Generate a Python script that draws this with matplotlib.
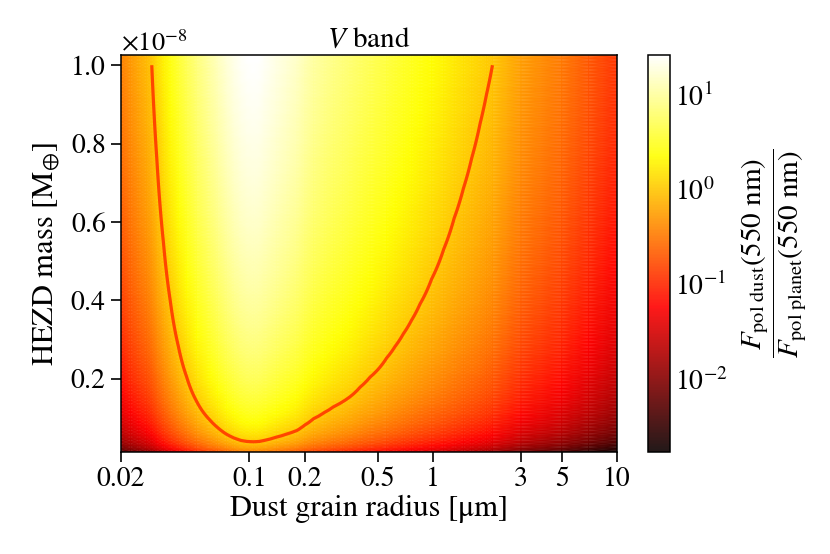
import numpy as np
import matplotlib
matplotlib.use("Agg")
import matplotlib.pyplot as plt
from matplotlib.colors import LogNorm
from matplotlib.ticker import FixedLocator, FixedFormatter, NullLocator, ScalarFormatter

plt.rcParams['font.family'] = ['STIXGeneral', 'DejaVu Serif']
plt.rcParams['mathtext.fontset'] = 'stix'

# dust grain radius samples [um]
grain_radius = np.array([0.020, 0.0225, 0.025, 0.0275, 0.0294, 0.0313, 0.034, 0.037,
                         0.041, 0.0455, 0.0515, 0.061, 0.067, 0.075, 0.082, 0.09,
                         0.097, 0.105, 0.113, 0.12, 0.14, 0.16, 0.181, 0.2, 0.223,
                         0.255, 0.286, 0.32, 0.352, 0.4, 0.453, 0.558, 0.62, 0.687,
                         0.76, 0.847, 0.98, 1.14, 1.3, 1.46, 1.62, 1.80, 1.95, 2.10,
                         3.0, 5.0, 7.0, 10.0])
# polarized flux ratio dust/planet at a HEZD mass of 1e-8 M_earth
flux_ratio_1e8 = np.array([0.35, 0.5, 0.65, 0.82, 1.0, 1.31, 1.82, 2.49,
                           3.53, 4.88, 7.0, 10.6, 13.2, 17.1, 20.3, 23.5,
                           25.0, 25.5, 25.0, 23.5, 19.6, 16.9, 14.7, 12.2, 10.2,
                           8.8, 7.8, 7.1, 6.5, 5.6, 4.9, 3.95, 3.54, 3.18,
                           2.87, 2.56, 2.20, 1.885, 1.64, 1.458, 1.31, 1.174, 1.08, 1.0,
                           0.55, 0.32, 0.2, 0.12])
# HEZD mass rows [1e-8 M_earth]
mass_rows = np.linspace(0.013, 1.026, 120)
contour_rows = np.linspace(0.013, 1.0, 120)

x_ticks = [0.02, 0.1, 0.2, 0.5, 1, 3, 5, 10]
x_tick_labels = ['0.02', '0.1', '0.2', '0.5', '1', '3', '5', '10']
y_ticks = [0.2e-8, 0.4e-8, 0.6e-8, 0.8e-8, 1.0e-8]

# flux ratio scales linearly with dust mass
Z = np.outer(mass_rows, flux_ratio_1e8)
Zc = np.outer(contour_rows, flux_ratio_1e8)

fig = plt.figure(figsize=(8.3, 5.54), dpi=100)
ax = fig.add_axes([0.1458, 0.184, 0.5976, 0.7167])
cax = fig.add_axes([0.7807, 0.184, 0.0265, 0.7167])

norm = LogNorm(vmin=1.7e-3, vmax=26)
mesh = ax.pcolormesh(grain_radius, mass_rows * 1e-8, Z, cmap='hot', norm=norm,
                     shading='gouraud', alpha=0.9, rasterized=True)
ax.contour(grain_radius, contour_rows * 1e-8, Zc, levels=[1.0],
           colors='orangered', linewidths=2.3)

ax.set_xscale('log')
ax.set_xlim(0.02, 10)
ax.set_ylim(0.013e-8, 1.026e-8)
ax.xaxis.set_major_locator(FixedLocator(x_ticks))
ax.xaxis.set_major_formatter(FixedFormatter(x_tick_labels))
ax.xaxis.set_minor_locator(NullLocator())
ax.yaxis.set_major_locator(FixedLocator(y_ticks))
fmt = ScalarFormatter(useMathText=True)
fmt.set_powerlimits((0, 0))
ax.yaxis.set_major_formatter(fmt)
ax.yaxis.get_offset_text().set_fontsize(19)

ax.tick_params(axis='both', which='major', length=7, width=1.2, labelsize=20, direction='out')
for s in ax.spines.values():
    s.set_linewidth(1.1)

ax.set_xlabel(r'Dust grain radius [μm]', fontsize=22, labelpad=2)
ax.set_ylabel(r'HEZD mass [M$_{\oplus}$]', fontsize=22, labelpad=6)
ax.set_title(r'$V$ band', fontsize=21, pad=6)

cb = fig.colorbar(mesh, cax=cax)
cb.ax.tick_params(which='both', length=0, labelsize=20)
cb.ax.minorticks_off()
cb.outline.set_linewidth(1.1)
cb.set_label(r'$\dfrac{F_{\mathrm{pol\ dust}}(550\ \mathrm{nm})}'
             r'{F_{\mathrm{pol\ planet}}(550\ \mathrm{nm})}$',
             fontsize=21, labelpad=8)

fig.savefig('out.png', dpi=100)
